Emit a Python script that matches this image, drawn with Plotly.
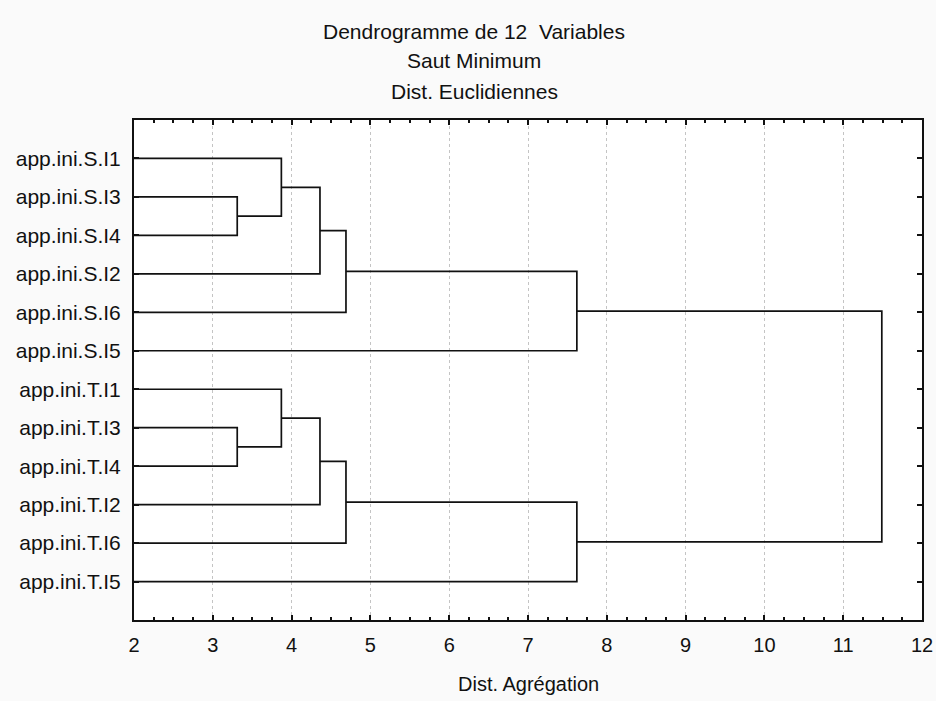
import plotly.graph_objects as go

# leaves in display order (top to bottom)
labels = ["app.ini.S.I1", "app.ini.S.I3", "app.ini.S.I4", "app.ini.S.I2", "app.ini.S.I6", "app.ini.S.I5",
          "app.ini.T.I1", "app.ini.T.I3", "app.ini.T.I4", "app.ini.T.I2", "app.ini.T.I6", "app.ini.T.I5"]

# merges: (cluster a, cluster b, new cluster, aggregation distance)
merges = [
    ("app.ini.S.I3", "app.ini.S.I4", "S1", 3.31),
    ("app.ini.S.I1", "S1", "S2", 3.87),
    ("S2", "app.ini.S.I2", "S3", 4.36),
    ("S3", "app.ini.S.I6", "S4", 4.69),
    ("S4", "app.ini.S.I5", "S5", 7.62),
    ("app.ini.T.I3", "app.ini.T.I4", "T1", 3.31),
    ("app.ini.T.I1", "T1", "T2", 3.87),
    ("T2", "app.ini.T.I2", "T3", 4.36),
    ("T3", "app.ini.T.I6", "T4", 4.69),
    ("T4", "app.ini.T.I5", "T5", 7.62),
    ("S5", "T5", "ALL", 11.49),
]

x_min, x_max = 2, 12
title_lines = ["Dendrogramme de 12\u00a0\u00a0Variables", "Saut Minimum", "Dist. Euclidiennes"]

FONT = "Liberation Sans, Arial, sans-serif"

# leaves start at the axis, clusters sit at the mean position of their children
pos = {lab: i + 1 for i, lab in enumerate(labels)}
height = {lab: x_min for lab in labels}

xs, ys = [], []
for a, b, c, h in merges:
    ya, yb = pos[a], pos[b]
    xs += [height[a], h, h, height[b], None]
    ys += [ya, ya, yb, yb, None]
    pos[c] = (ya + yb) / 2
    height[c] = h

fig = go.Figure()
fig.add_trace(go.Scatter(x=xs, y=ys, mode="lines",
                         line=dict(color="#111111", width=1.7),
                         hoverinfo="skip", showlegend=False))

plot_l, plot_r, plot_t, plot_b = 134, 922, 120, 620
W, H = 936, 701
pw, ph = plot_r - plot_l, plot_b - plot_t

for txt, py in zip(title_lines, [31, 61, 92]):
    fig.add_annotation(text=txt, xref="paper", yref="paper",
                       x=(474 - plot_l) / pw, y=(plot_b - py) / ph,
                       xanchor="center", yanchor="middle", showarrow=False,
                       font=dict(family=FONT, size=21, color="#111111"))

fig.add_annotation(text="Dist. Agrégation", xref="paper", yref="paper",
                   x=0.5, y=(plot_b - 684) / ph, xanchor="center", yanchor="middle",
                   showarrow=False, font=dict(family=FONT, size=20, color="#111111"))

fig.update_xaxes(range=[x_min, x_max], dtick=1, tick0=0, automargin=False,
                 showline=True, linecolor="#111111", linewidth=2, mirror="allticks",
                 ticks="inside", ticklen=5, tickwidth=1.5, tickcolor="#111111",
                 minor=dict(ticks="inside", dtick=0.25, ticklen=3, tickcolor="#111111", showgrid=False),
                 showgrid=True, gridcolor="#c4c4c4", griddash="3px,3px", gridwidth=1,
                 zeroline=False, tickfont=dict(family=FONT, size=20, color="#111111"),
                 ticklabelstandoff=6)

fig.update_yaxes(range=[13, 0], tickvals=list(range(1, len(labels) + 1)), ticktext=labels,
                 automargin=False,
                 showline=True, linecolor="#111111", linewidth=2, mirror="allticks",
                 ticks="inside", ticklen=5, tickwidth=1.5, tickcolor="#111111",
                 showgrid=False, zeroline=False,
                 tickfont=dict(family=FONT, size=21, color="#111111"),
                 ticklabelstandoff=7)

fig.update_layout(width=W, height=H, autosize=False,
                  margin=dict(l=plot_l, r=W - plot_r, t=plot_t, b=H - plot_b),
                  paper_bgcolor="#fafafa", plot_bgcolor="#ffffff",
                  font=dict(family=FONT, color="#111111"))

# drop the browser's default body margin so the figure sits at the window corner
fig.write_html("out.html", config={"displayModeBar": False, "responsive": False},
               post_script="document.body.style.margin='0px';document.body.style.overflow='hidden';")
